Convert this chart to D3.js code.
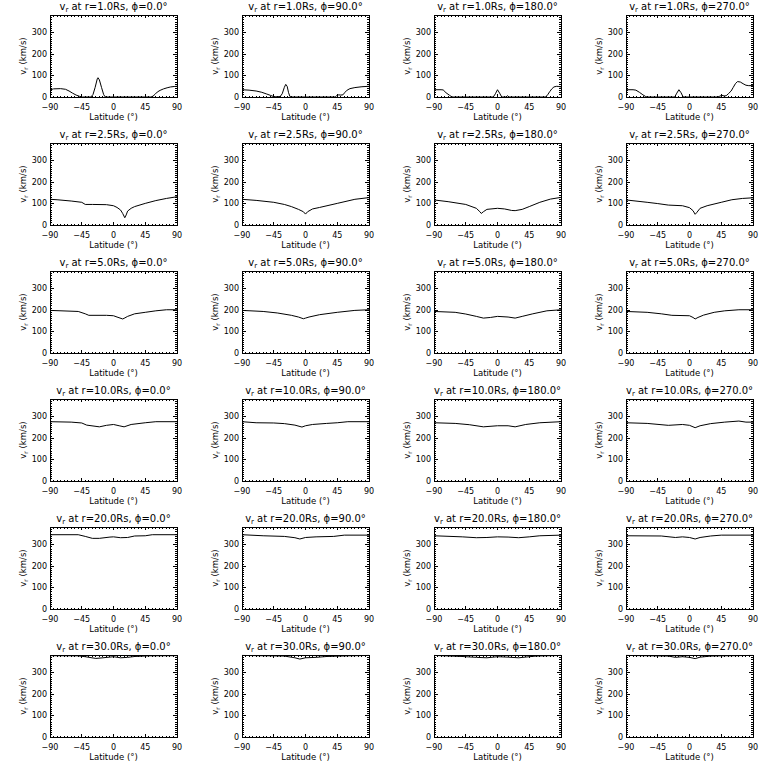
<!DOCTYPE html>
<html><head><meta charset="utf-8">
<script src="https://cdn.jsdelivr.net/npm/d3@7"></script>
<style>
body{margin:0;background:#fff;}
svg{display:block;}
text{font-family:"DejaVu Sans",sans-serif;fill:#000;}
</style></head>
<body><svg id="c" width="768" height="768"></svg>
<script>
// ---- data ----
const radii = ["1.0","2.5","5.0","10.0","20.0","30.0"];
const phis = ["0.0","90.0","180.0","270.0"];
const xTicks = [-90,-45,0,45,90];
const yTicks = [0,100,200,300];
const xDomain = [-90,90];
const yDomain = [0,383];

// [latitude, v_r (km/s)]
const vr_r1_p0 = [[-90,33],[-85,38],[-75,39],[-68,36],[-63,28],[-58,18],[-53,9],[-48,3],[-44,0],[-32,0],[-29,12],[-26,45],[-23,85],[-22,90],[-20,80],[-17,45],[-14,12],[-12,1],[-9,0],[53,0],[56,4],[59,13],[62,23],[66,31],[71,38],[76,43],[81,47],[86,49],[90,50]];
const vr_r1_p90 = [[-90,34],[-80,32],[-70,28],[-62,22],[-55,14],[-50,8],[-46,3],[-42,1],[-36,2],[-33,15],[-30,45],[-28,59],[-26,50],[-24,20],[-22,2],[-20,0],[42,0],[44,6],[47,10],[50,9],[53,10],[56,22],[59,32],[63,39],[70,44],[80,48],[90,50]];
const vr_r1_p180 = [[-90,34],[-80,34],[-77,33],[-73,20],[-68,8],[-65,1],[-62,0],[-6,0],[-3,15],[0,34],[3,18],[6,0],[12,0],[14,6],[16,0],[68,0],[71,10],[74,25],[77,38],[80,47],[84,50],[87,49],[90,47]];
const vr_r1_p270 = [[-90,34],[-80,34],[-76,32],[-71,22],[-66,10],[-62,2],[-60,0],[-21,0],[-18,18],[-15,34],[-12,20],[-9,0],[40,0],[43,4],[46,8],[49,5],[52,6],[55,15],[59,28],[62,45],[65,62],[68,72],[72,70],[76,62],[80,55],[84,53],[90,53]];

const vr_r2_p0 = [[-90,120],[-80,118],[-60,112],[-45,106],[-40,96],[-30,96],[-10,95],[0,90],[5,82],[10,70],[13,54],[16,34],[18,47],[20,65],[25,78],[30,86],[45,101],[60,114],[75,124],[90,132]];
const vr_r2_p90 = [[-90,120],[-70,115],[-45,106],[-30,96],[-20,86],[-10,73],[-3,62],[0,51],[3,62],[10,75],[20,82],[45,101],[70,120],[90,128]];
const vr_r2_p180 = [[-90,117],[-70,109],[-45,96],[-30,78],[-25,62],[-23,54],[-20,62],[-15,73],[0,78],[10,75],[20,68],[25,67],[35,73],[45,86],[60,106],[75,121],[90,129]];
const vr_r2_p270 = [[-90,117],[-60,106],[-45,100],[-30,93],[-10,90],[0,81],[5,67],[8,50],[10,57],[15,78],[25,90],[45,106],[60,118],[75,124],[90,127]];

const vr_r5_p0 = [[-90,199],[-50,194],[-40,183],[-35,176],[-10,176],[0,174],[5,168],[13,159],[15,162],[20,171],[30,183],[45,190],[60,197],[75,202],[90,202]];
const vr_r5_p90 = [[-90,199],[-60,194],[-40,187],[-20,176],[-10,168],[-3,160],[0,163],[5,168],[20,179],[45,190],[70,199],[90,202]];
const vr_r5_p180 = [[-90,194],[-60,190],[-45,182],[-30,171],[-20,163],[-10,166],[0,171],[15,168],[25,163],[35,171],[50,183],[70,197],[90,202]];
const vr_r5_p270 = [[-90,194],[-60,190],[-40,183],[-25,176],[0,174],[5,166],[8,159],[12,166],[20,177],[35,190],[50,197],[70,202],[90,202]];

const vr_r10_p0 = [[-90,277],[-60,275],[-45,271],[-38,261],[-20,253],[-10,260],[0,264],[8,258],[15,253],[25,264],[45,272],[60,277],[90,277]];
const vr_r10_p90 = [[-90,277],[-70,272],[-45,271],[-30,268],[-15,261],[-5,252],[0,258],[10,264],[30,269],[45,272],[60,277],[90,277]];
const vr_r10_p180 = [[-90,272],[-60,269],[-40,263],[-20,253],[0,258],[15,258],[25,253],[40,264],[60,272],[90,277]];
const vr_r10_p270 = [[-90,272],[-60,269],[-30,260],[-10,264],[0,260],[8,249],[15,258],[30,268],[50,275],[70,280],[80,275],[90,275]];

const vr_r20_p0 = [[-90,347],[-50,347],[-40,339],[-30,330],[-20,330],[-5,336],[0,337],[10,333],[20,334],[30,341],[45,342],[55,347],[90,347]];
const vr_r20_p90 = [[-90,347],[-60,342],[-30,339],[-15,333],[-8,327],[0,334],[15,337],[40,339],[55,345],[90,345]];
const vr_r20_p180 = [[-90,342],[-50,337],[-30,333],[-15,334],[0,337],[15,336],[30,333],[45,337],[60,342],[90,345]];
const vr_r20_p270 = [[-90,342],[-40,341],[-20,334],[-10,337],[0,334],[8,327],[15,334],[30,341],[45,345],[90,345]];

const vr_r30_p0 = [[-90,380],[-50,379],[-40,375],[-25,367],[-15,370],[0,375],[10,370],[20,372],[30,376],[50,379],[90,380]];
const vr_r30_p90 = [[-90,381],[-30,378],[-15,370],[-8,364],[0,370],[15,372],[30,376],[60,379],[90,381]];
const vr_r30_p180 = [[-90,381],[-50,376],[-30,372],[-15,370],[0,375],[15,373],[30,370],[45,375],[55,378],[90,381]];
const vr_r30_p270 = [[-90,381],[-30,378],[-20,372],[-10,375],[0,372],[8,366],[15,373],[30,378],[45,379],[90,381]];

const series = [
  [vr_r1_p0, vr_r1_p90, vr_r1_p180, vr_r1_p270],
  [vr_r2_p0, vr_r2_p90, vr_r2_p180, vr_r2_p270],
  [vr_r5_p0, vr_r5_p90, vr_r5_p180, vr_r5_p270],
  [vr_r10_p0, vr_r10_p90, vr_r10_p180, vr_r10_p270],
  [vr_r20_p0, vr_r20_p90, vr_r20_p180, vr_r20_p270],
  [vr_r30_p0, vr_r30_p90, vr_r30_p180, vr_r30_p270]
];

// ---- layout ----
const svg = d3.select("#c");
const cellW = 192, cellH = 128;
const pl = 50, pr = 177, pt = 15, pb = 97;
const fmt = d => (d < 0 ? "\u2212" + Math.abs(d) : String(d));

radii.forEach((r, ri) => {
  phis.forEach((p, pi) => {
    const g = svg.append("g").attr("transform", `translate(${pi*cellW},${ri*cellH})`);
    const x = d3.scaleLinear().domain(xDomain).range([pl, pr]);
    const y = d3.scaleLinear().domain(yDomain).range([pb, pt]);

    // title
    const t = g.append("text").attr("x", (pl+pr)/2).attr("y", 10)
      .attr("text-anchor", "middle").style("font-size", "10px").attr("fill", "#000");
    t.append("tspan").text("v");
    t.append("tspan").attr("dy", 2).style("font-size", "7px").text("r");
    t.append("tspan").attr("dy", -2).text(` at r=${r}Rs, \u03d5=${p}\u00b0`);

    // axes (IDL style: ticks inward on all sides)
    const xMinor = d3.range(-90, 91, 5);
    const yMinor = d3.range(0, 383, 10);
    const ax = g.append("g").attr("shape-rendering", "crispEdges").attr("stroke", "#000").attr("stroke-width", 1);
    ax.append("rect").attr("x", pl).attr("y", pt).attr("width", pr-pl).attr("height", pb-pt).attr("fill", "none");
    xMinor.forEach(v => {
      const L = xTicks.includes(v) ? 3 : 1.5;
      ax.append("line").attr("x1", x(v)).attr("x2", x(v)).attr("y1", pb).attr("y2", pb-L);
      ax.append("line").attr("x1", x(v)).attr("x2", x(v)).attr("y1", pt).attr("y2", pt+L);
    });
    yMinor.forEach(v => {
      const L = yTicks.includes(v) ? 4 : 2;
      ax.append("line").attr("x1", pl).attr("x2", pl+L).attr("y1", y(v)).attr("y2", y(v));
      ax.append("line").attr("x1", pr).attr("x2", pr-L).attr("y1", y(v)).attr("y2", y(v));
    });

    // tick labels
    g.selectAll(".xt").data(xTicks).enter().append("text")
      .attr("x", d => x(d)).attr("y", pb + 12.5).attr("text-anchor", "middle")
      .style("font-size", "8px").text(fmt);
    g.selectAll(".yt").data(yTicks).enter().append("text")
      .attr("x", pl - 3).attr("y", d => y(d) + 2.5).attr("text-anchor", "end")
      .style("font-size", "8px").text(fmt);

    // axis titles
    g.append("text").attr("x", (pl+pr)/2).attr("y", pb + 23).attr("text-anchor", "middle")
      .style("font-size", "8.5px").text("Latitude (\u00b0)");
    const yl = g.append("text").attr("transform", `translate(26,${(pt+pb)/2}) rotate(-90)`)
      .attr("text-anchor", "middle").style("font-size", "8.5px");
    yl.append("tspan").text("v");
    yl.append("tspan").attr("dy", 2).style("font-size", "6px").text("r");
    yl.append("tspan").attr("dy", -2).text(" (km/s)");

    // curve
    const line = d3.line().x(d => x(d[0])).y(d => y(d[1]));
    g.append("path").datum(series[ri][pi]).attr("d", line)
      .attr("fill", "none").attr("stroke", "#000").attr("stroke-width", 1);
  });
});
</script></body></html>
